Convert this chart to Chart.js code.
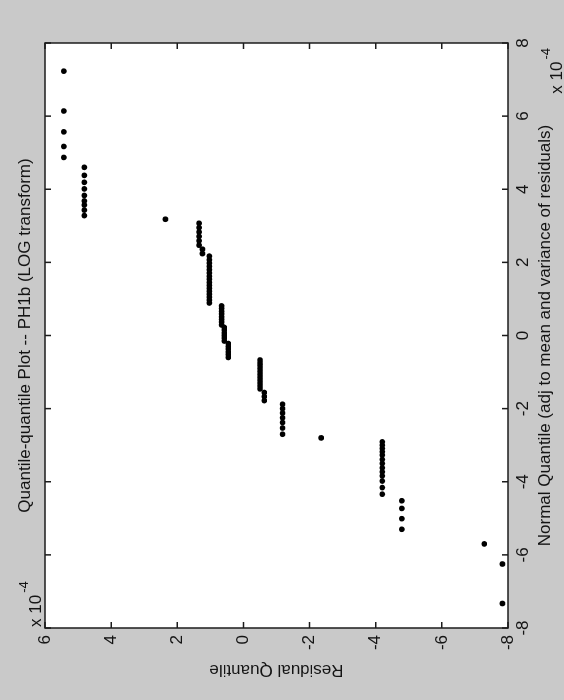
<!DOCTYPE html>
<html><head><meta charset="utf-8">
<script src="https://cdn.jsdelivr.net/npm/chart.js@4.4.1/dist/chart.umd.min.js"></script>
<style>
html,body{margin:0;padding:0;width:564px;height:700px;overflow:hidden;background:#c9c9c9;}
#wrap{position:absolute;left:-68px;top:68px;width:700px;height:564px;transform:rotate(-90deg);transform-origin:50% 50%;}
canvas{display:block;}
</style></head><body>
<div id="wrap"><canvas id="c" width="700" height="564"></canvas></div>
<script>
const titleText = 'Quantile-quantile Plot -- PH1b (LOG transform)';
const xLabel = 'Normal Quantile (adj to mean and variance of residuals)';
const yLabel = 'Residual Quantile';
const exponentBase = 'x 10';
const exponentPower = '-4';
const xTicks = [-8, -6, -4, -2, 0, 2, 4, 6, 8];
const yTicks = [-8, -6, -4, -2, 0, 2, 4, 6];

// values in units of 10^-4
const normalQuantile = [
  7.23, 6.14, 5.57, 5.17, 4.87,
  4.60, 4.38, 4.19, 4.01, 3.83, 3.68, 3.57, 3.43, 3.28,
  3.18,
  3.07, 2.95, 2.83, 2.71, 2.59, 2.47,
  2.36, 2.24,
  2.17, 2.07, 1.98, 1.89, 1.80, 1.71, 1.62, 1.54, 1.45, 1.37, 1.29, 1.21, 1.13, 1.05, 0.97, 0.89,
  0.81, 0.74, 0.66, 0.59, 0.51, 0.44, 0.37, 0.29,
  0.22, 0.15, 0.07, 0.00, -0.07, -0.15,
  -0.22, -0.30, -0.37, -0.45, -0.52, -0.60,
  -0.67, -0.75, -0.82, -0.90, -0.98, -1.06, -1.14, -1.22, -1.30, -1.38, -1.46,
  -1.56, -1.67, -1.78,
  -1.88, -2.00, -2.12, -2.25, -2.38, -2.53, -2.70,
  -2.80,
  -2.91, -3.00, -3.09, -3.18, -3.27, -3.39, -3.50, -3.62, -3.73, -3.84, -3.98, -4.16, -4.34,
  -4.52, -4.73, -5.01, -5.30,
  -5.70, -6.25, -7.33
];
const residualQuantile = [
  5.43, 5.43, 5.43, 5.43, 5.43,
  4.81, 4.81, 4.81, 4.81, 4.81, 4.81, 4.81, 4.81, 4.81,
  2.36,
  1.34, 1.34, 1.34, 1.34, 1.34, 1.34,
  1.24, 1.24,
  1.03, 1.03, 1.03, 1.03, 1.03, 1.03, 1.03, 1.03, 1.03, 1.03, 1.03, 1.03, 1.03, 1.03, 1.03, 1.03,
  0.66, 0.66, 0.66, 0.66, 0.66, 0.66, 0.66, 0.66,
  0.58, 0.58, 0.58, 0.58, 0.58, 0.58,
  0.46, 0.46, 0.46, 0.46, 0.46, 0.46,
  -0.50, -0.50, -0.50, -0.50, -0.50, -0.50, -0.50, -0.50, -0.50, -0.50, -0.50,
  -0.63, -0.63, -0.63,
  -1.18, -1.18, -1.18, -1.18, -1.18, -1.18, -1.18,
  -2.35,
  -4.20, -4.20, -4.20, -4.20, -4.20, -4.20, -4.20, -4.20, -4.20, -4.20, -4.20, -4.20, -4.20,
  -4.79, -4.79, -4.79, -4.79,
  -7.28, -7.83, -7.83
];

const points = normalQuantile.map((q, i) => ({ x: q, y: residualQuantile[i] }));

const FONT = '"Liberation Sans", Arial, Helvetica, sans-serif';
const INK = '#141414';
Chart.defaults.font.family = FONT;
Chart.defaults.color = INK;

const framePlugin = {
  id: 'frame',
  beforeDraw(chart) {
    const { ctx, chartArea: a } = chart;
    ctx.save();
    ctx.fillStyle = '#ffffff';
    ctx.fillRect(a.left, a.top, a.right - a.left, a.bottom - a.top);
    ctx.restore();
  },
  afterDraw(chart) {
    const { ctx, chartArea: a, scales: { x, y } } = chart;
    ctx.save();
    ctx.strokeStyle = '#1c1c1c';
    ctx.lineWidth = 1.5;
    const L = 6;
    ctx.beginPath();
    xTicks.forEach(v => {
      const p = x.getPixelForValue(v);
      ctx.moveTo(p, a.bottom); ctx.lineTo(p, a.bottom - L);
      ctx.moveTo(p, a.top); ctx.lineTo(p, a.top + L);
    });
    yTicks.forEach(v => {
      const p = y.getPixelForValue(v);
      ctx.moveTo(a.left, p); ctx.lineTo(a.left + L, p);
      ctx.moveTo(a.right, p); ctx.lineTo(a.right - L, p);
    });
    ctx.stroke();
    ctx.strokeRect(a.left, a.top, a.right - a.left, a.bottom - a.top);

    // exponent labels
    ctx.fillStyle = INK;
    ctx.textAlign = 'left';
    ctx.textBaseline = 'alphabetic';
    const big = '17px ' + FONT, small = '13px ' + FONT;
    // y-axis exponent (top-left)
    ctx.font = big;
    const wb = ctx.measureText(exponentBase).width;
    ctx.fillText(exponentBase, a.left + 1, a.top - 4);
    ctx.font = small;
    const ws = ctx.measureText(exponentPower).width;
    ctx.fillText(exponentPower, a.left + 1 + wb + 2, a.top - 17);
    // x-axis exponent (bottom-right)
    const sx = a.right - 5 - ws - 2 - wb;
    ctx.font = big;
    ctx.fillText(exponentBase, sx, chart.height - 2);
    ctx.font = small;
    ctx.fillText(exponentPower, sx + wb + 2, chart.height - 14);
    ctx.restore();
  }
};

new Chart(document.getElementById('c'), {
  type: 'scatter',
  data: {
    datasets: [{
      data: points,
      backgroundColor: '#000000',
      borderColor: '#000000',
      pointRadius: 2.8,
      pointBorderWidth: 0,
      clip: false
    }]
  },
  options: {
    responsive: false,
    devicePixelRatio: 1,
    animation: false,
    events: [],
    layout: { padding: { left: 0, right: 43, top: 0, bottom: 0 } },
    plugins: {
      legend: { display: false },
      tooltip: { enabled: false },
      title: {
        display: true,
        text: titleText,
        fullSize: false,
        color: INK,
        font: { size: 17, weight: 'normal', family: FONT },
        padding: { top: 15, bottom: 9.6 }
      }
    },
    scales: {
      x: {
        type: 'linear',
        position: 'bottom',
        min: -8, max: 8,
        afterBuildTicks: s => { s.ticks = xTicks.map(v => ({ value: v })); },
        afterFit: s => { s.height = 56; },
        grid: { display: false, drawTicks: false },
        border: { display: false },
        ticks: {
          autoSkip: false, maxRotation: 0, padding: 5,
          color: INK, font: { size: 17 },
          callback: v => String(v)
        },
        title: {
          display: true, text: xLabel, color: INK,
          font: { size: 17 }, padding: { top: 0, bottom: 8 }
        }
      },
      y: {
        type: 'linear',
        position: 'left',
        min: -8, max: 6,
        afterBuildTicks: s => { s.ticks = yTicks.map(v => ({ value: v })); },
        afterFit: s => { s.width = 72; },
        grid: { display: false, drawTicks: false },
        border: { display: false },
        ticks: {
          autoSkip: false, padding: 7,
          color: INK, font: { size: 17 },
          callback: v => String(v)
        },
        title: {
          display: true, text: yLabel, color: INK,
          font: { size: 17 }, padding: { top: 20, bottom: 0 }
        }
      }
    }
  },
  plugins: [framePlugin]
});
</script>
</body></html>
